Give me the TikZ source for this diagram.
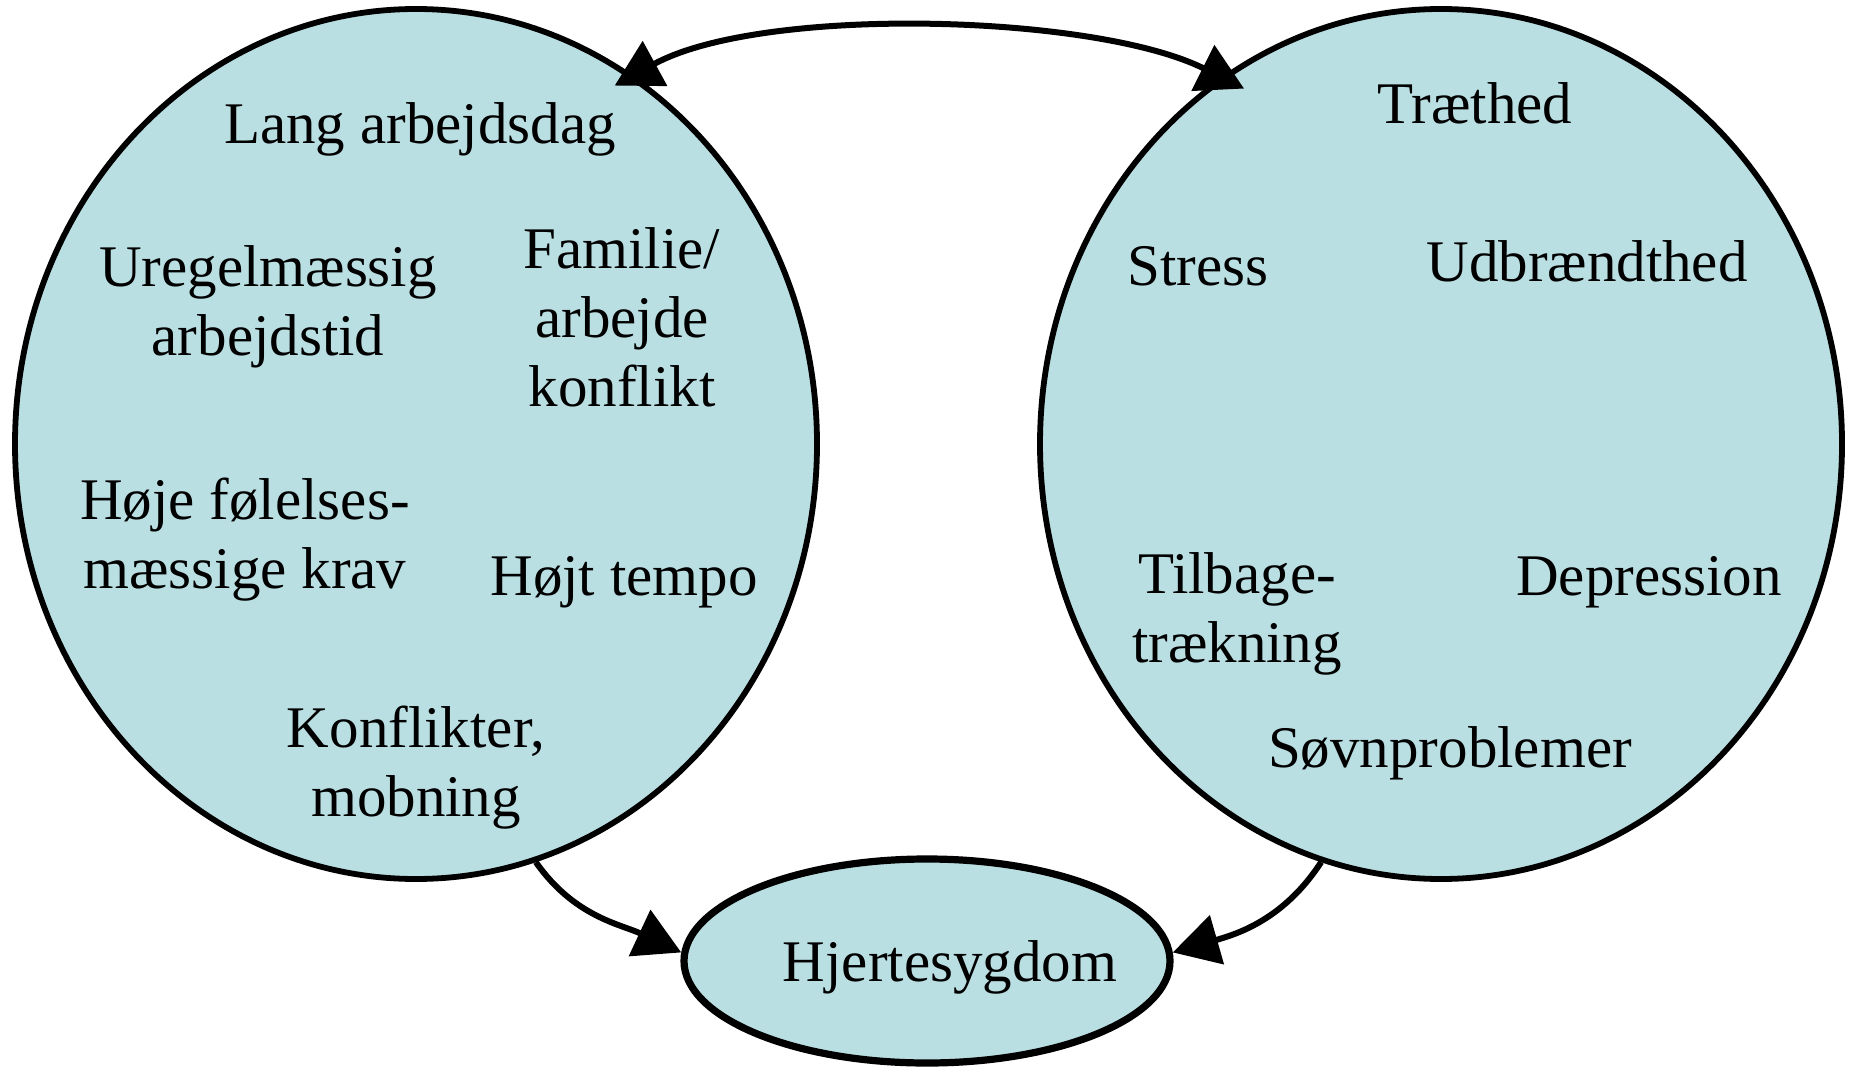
\documentclass[tikz,border=0pt]{standalone}
\usepackage{fontspec}
\setmainfont{Liberation Serif}
\usetikzlibrary{shapes.geometric,arrows.meta,calc}
\definecolor{bubblefill}{RGB}{186,223,227}
\begin{document}
\begin{tikzpicture}[x=0.5pt,y=0.5pt,
  bubble/.style={ellipse, draw, fill=bubblefill, line width=2.9pt, inner sep=0pt},
  lbl/.style={font=\fontsize{29.5}{34.5}\selectfont, align=center, anchor=base, inner sep=0pt},
  conn/.style={line width=3pt, >={Triangle[length=23pt,width=25pt]}},
]
\useasboundingbox (0,0) rectangle (1850,-1069);
% ellipses
\node[bubble, minimum width=401pt, minimum height=435pt] (L) at (416,-444) {};
\node[bubble, minimum width=401pt, minimum height=435pt] (R) at (1441,-444) {};
\node[bubble, line width=3.6pt, minimum width=243pt, minimum height=102pt] (H) at (927,-961) {};
% labels left (anchor = baseline of last line)
\node[lbl] (l1) at (420,-144) {Lang arbejdsdag};
\node[lbl] (l2) at (268,-356) {Uregelmæssig\\arbejdstid};
\node[lbl] (l3) at (622,-406) {Familie/\\arbejde\\konflikt};
\node[lbl] (l4) at (245,-588) {Høje følelses-\\mæssige krav};
\node[lbl] (l5) at (624,-595) {Højt tempo};
\node[lbl] (l6) at (416,-816) {Konflikter,\\mobning};
% labels right
\node[lbl] (r1) at (1475,-124) {Træthed};
\node[lbl] (r2) at (1198,-286) {Stress};
\node[lbl] (r3) at (1587,-282) {Udbrændthed};
\node[lbl] (r4) at (1237,-662) {Tilbage-\\trækning};
\node[lbl] (r5) at (1649,-595) {Depression};
\node[lbl] (r6) at (1450,-767) {Søvnproblemer};
% bottom
\node[lbl] (h1) at (950,-981) {Hjertesygdom};
% connectors
\draw[conn,<->] ($(L.center)!0.955!(L.61)$) .. controls (762,-5) and (1095,-14) .. ($(R.center)!0.947!(R.119)$);
\draw[conn,->] (L.-74) to[out=-55,in=155] (H.178);
\draw[conn,->] (R.-106) to[out=-123,in=16] (H.2);
\end{tikzpicture}
\end{document}
